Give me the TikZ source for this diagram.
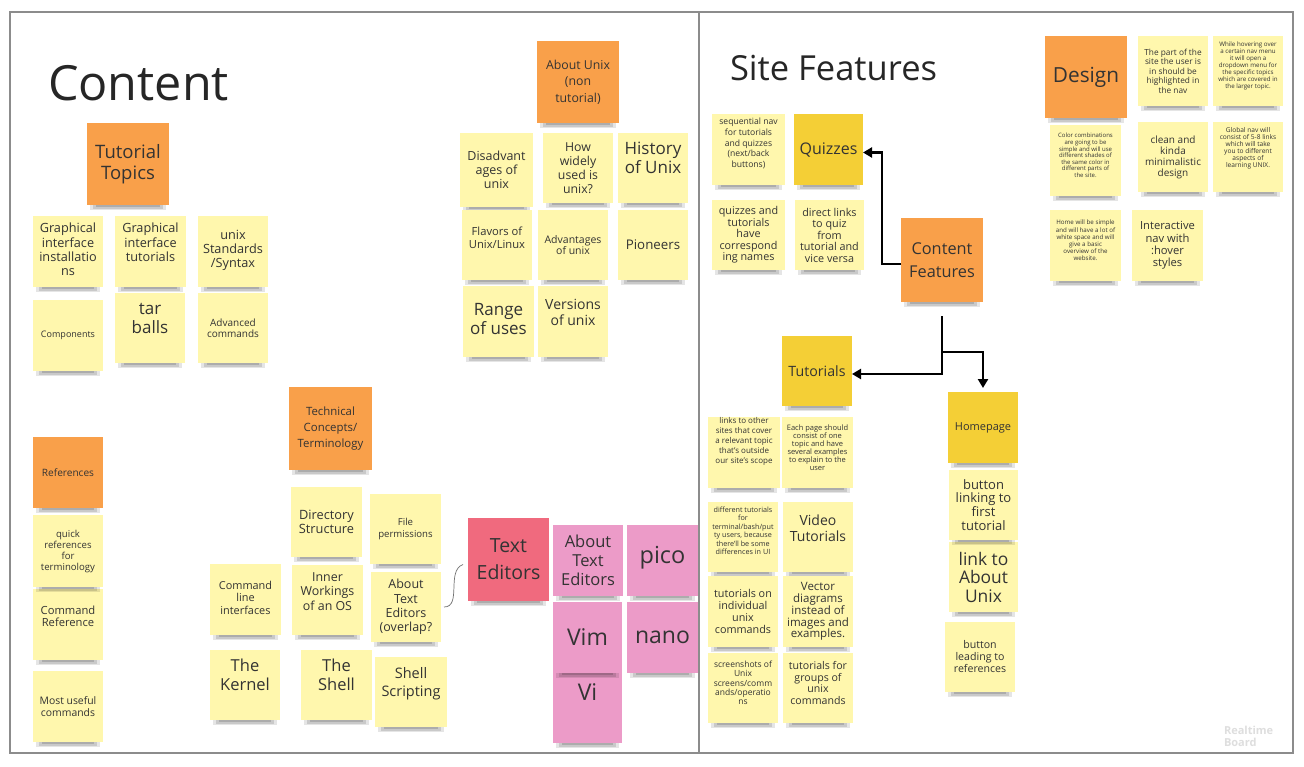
\documentclass[tikz,border=0pt]{standalone}
\usepackage{fontspec}
\setmainfont{Open Sans}
\usetikzlibrary{arrows.meta}
\definecolor{paleY}{HTML}{FFF7AD}
\definecolor{orng}{HTML}{F9A04A}
\definecolor{gold}{HTML}{F4CF36}
\definecolor{rose}{HTML}{F06A7E}
\definecolor{pinkish}{HTML}{EC9BC8}
\definecolor{ink}{HTML}{333333}
\definecolor{framec}{HTML}{8C8C8C}

% sticky note: colour style, name, x1, y1, x2, y2, text keys, text
\newcommand\sticky[8]{%
  \fill[black, opacity=.10] ({#3+3},{#6-6}) rectangle ({#5-3},{#6+5});
  \fill[black, opacity=.12] ({#3+6},{#6-6}) rectangle ({#5-6},{#6+3.5});
  \fill[black, opacity=.14] ({#3+9},{#6-6}) rectangle ({#5-9},{#6+2});
  \node[#1, minimum width={(#5)-(#3)}, minimum height={(#6)-(#4)}]
    (#2) at ({((#3)+(#5))/2},{((#4)+(#6))/2}) {};
  \node[txt,#7] (#2-t) at (#2.center) {#8};
}

\begin{document}
\begin{tikzpicture}[x=1pt,y=-1pt,
  every node/.style={inner sep=0pt, outer sep=0pt},
  paper/.style={rectangle, draw=none},
  palep/.style={paper, fill=paleY},
  orangep/.style={paper, fill=orng},
  goldp/.style={paper, fill=gold},
  rosep/.style={paper, fill=rose},
  pinkp/.style={paper, fill=pinkish},
  txt/.style={align=center, text=ink},
  fz/.style 2 args={font=\fontsize{#1}{#2}\selectfont},
  conn/.style={draw=black, line width=2.6pt, line join=miter,
    -{Triangle[length=9pt,width=10pt]}},
]
\useasboundingbox (0,0) rectangle (1304,766);
\fill[white] (0,0) rectangle (1304,766);

% board frame and the divider between the two halves
\draw[framec, line width=1.2pt] (10,12) rectangle (1293,753);
\draw[framec, line width=1.2pt] (699,12) -- (699,753);

% headings
\node[anchor=base west, fz={48.5}{50}, text=black!85] (contentTitle) at (48,100) {Content};
\node[anchor=base west, fz={34.5}{36}, text=black!85] (siteTitle) at (730,80) {Site Features};

% ---------- tutorial topics ----------
\sticky{orangep}{tt}{87}{123}{169}{205}{fz={18.5}{21}}{Tutorial\\Topics}
\sticky{palep}{gii}{33}{216}{103}{287}{fz={12.7}{14.3},yshift=2pt}{Graphical\\interface\\installatio\\ns}
\sticky{palep}{git}{115}{216}{186}{287}{fz={12.7}{14.3},yshift=9pt}{Graphical\\interface\\tutorials}
\sticky{palep}{uss}{198}{216}{268}{287}{fz={12.7}{13.8},yshift=1pt}{unix\\Standards\\/Syntax}
\sticky{palep}{comp}{33}{300}{103}{371}{fz={9}{10}}{Components}
\sticky{palep}{tar}{115}{293}{185}{363}{fz={17}{19},yshift=10pt}{tar\\balls}
\sticky{palep}{adv}{198}{293}{268}{363}{fz={10}{11}}{Advanced\\commands}

% ---------- about unix ----------
\sticky{orangep}{au}{537}{41}{619}{123}{fz={12.3}{16.5}}{About Unix\\(non\\tutorial)}
\sticky{palep}{dis}{460}{133}{533}{207}{fz={12.5}{14.2}}{Disadvant\\ages of\\unix}
\sticky{palep}{how}{543}{133}{613}{203}{fz={12.3}{14.1}}{How\\widely\\used is\\unix?}
\sticky{palep}{hist}{618}{133}{688}{203}{fz={17}{18.5},yshift=10pt}{History\\of Unix}
\sticky{palep}{flav}{462}{210}{532}{280}{fz={11.2}{12.7},yshift=7pt}{Flavors of\\Unix/Linux}
\sticky{palep}{advu}{538}{210}{608}{280}{fz={10.5}{11.7}}{Advantages\\of unix}
\sticky{palep}{pio}{618}{210}{688}{280}{fz={13.3}{15}}{Pioneers}
\sticky{palep}{range}{463}{286}{534}{357}{fz={17}{19},yshift=2pt}{Range\\of uses}
\sticky{palep}{vers}{538}{286}{608}{357}{fz={14}{16.5},yshift=9pt}{Versions\\of unix}

% ---------- technical concepts ----------
\sticky{orangep}{tech}{289}{387}{372}{470}{fz={11.4}{16}}{Technical\\Concepts/\\Terminology}
\sticky{palep}{dir}{291}{487}{362}{557}{fz={12.8}{13.6}}{Directory\\Structure}
\sticky{palep}{perm}{370}{494}{441}{564}{fz={9.6}{11.3}}{File\\permissions}
\sticky{palep}{cli}{210}{564}{281}{635}{fz={10.9}{12.5},yshift=2pt}{Command\\line\\interfaces}
\sticky{palep}{inner}{292}{565}{363}{635}{fz={12.4}{14.5},yshift=8.5pt}{Inner\\Workings\\of an OS}
\sticky{palep}{ate}{371}{572}{441}{642}{fz={12.5}{14.2}}{About\\Text\\Editors\\(overlap?}
\sticky{palep}{kern}{210}{650}{280}{720}{fz={16.5}{19},yshift=10pt}{The\\Kernel}
\sticky{palep}{shell}{301}{650}{372}{720}{fz={16.5}{19},yshift=10pt}{The\\Shell}
\sticky{palep}{script}{375}{657}{447}{727}{fz={14.5}{17.5},yshift=8.5pt}{Shell\\Scripting}

% ---------- text editors (lower notes first so upper shadows overlap them) ----------
\sticky{rosep}{te}{468}{518}{549}{601}{fz={19.5}{27}}{Text\\Editors}
\sticky{pinkp}{vi}{553}{673}{622}{743}{fz={23}{26},yshift=16pt}{Vi}
\sticky{pinkp}{vim}{553}{602}{622}{673}{fz={23}{26}}{Vim}
\sticky{pinkp}{nano}{627}{602}{698}{673}{fz={23}{26}}{nano}
\sticky{pinkp}{ated}{553}{525}{623}{596}{fz={16.5}{19}}{About\\Text\\Editors}
\sticky{pinkp}{pico}{627}{525}{698}{596}{fz={23.5}{26},yshift=3pt}{pico}

% ---------- references ----------
\sticky{orangep}{refs}{33}{437}{103}{508}{fz={10.1}{12}}{References}
\sticky{palep}{useful}{33}{671}{103}{742}{fz={10.4}{12}}{Most useful\\commands}
\sticky{palep}{cmdref}{33}{589}{103}{660}{fz={11.2}{12.2},yshift=8pt}{Command\\Reference}
\sticky{palep}{quick}{33}{515}{103}{587}{fz={9.6}{11}}{quick\\references\\for\\terminology}

% ---------- site features: content ----------
\sticky{palep}{seq}{712}{114}{785}{185}{fz={8.6}{10.7},yshift=6pt}{sequential nav\\for tutorials\\and quizzes\\(next/back\\buttons)}
\sticky{goldp}{quiz}{794}{114}{863}{185}{fz={16}{18}}{Quizzes}
\sticky{palep}{names}{712}{200}{785}{270}{fz={10.8}{11.5}}{quizzes and\\tutorials\\have\\correspond\\ing names}
\sticky{palep}{direct}{795}{200}{864}{270}{fz={10.8}{11.5}}{direct links\\to quiz\\from\\tutorial and\\vice versa}
\sticky{orangep}{cf}{901}{218}{983}{302}{fz={16.3}{22.5}}{Content\\Features}
\sticky{goldp}{tut}{782}{336}{852}{406}{fz={14.2}{16}}{Tutorials}
\sticky{palep}{bref}{945}{622}{1015}{692}{fz={10.6}{12}}{button\\leading to\\references}
\sticky{palep}{labout}{949}{542}{1018}{612}{fz={17.4}{18.5}}{link to\\About\\Unix}
\sticky{palep}{bfirst}{949}{470}{1018}{540}{fz={13}{13.8}}{button\\linking to\\first\\tutorial}
\sticky{goldp}{home}{948}{392}{1018}{463}{fz={11}{13}}{Homepage}

\sticky{palep}{links}{708}{417}{780}{488}{fz={8}{10},yshift=11pt}{links to other\\sites that cover\\a relevant topic\\that's outside\\our site's scope}
\sticky{palep}{each}{782}{417}{853}{488}{fz={7.5}{8},yshift=5pt}{Each page should\\consist of one\\topic and have\\several examples\\to explain to the\\user}
\sticky{palep}{diff}{708}{502}{778}{572}{fz={7.2}{8.5},yshift=6pt}{different tutorials\\for\\terminal/bash/put\\ty users, because\\there'll be some\\differences in UI}
\sticky{palep}{video}{783}{502}{853}{572}{fz={14}{16},yshift=9pt}{Video\\Tutorials}
\sticky{palep}{indiv}{708}{576}{778}{647}{fz={10.8}{11.9}}{tutorials on\\individual\\unix\\commands}
\sticky{palep}{vector}{783}{576}{853}{647}{fz={11.5}{11.5}}{Vector\\diagrams\\instead of\\images and\\examples.}
\sticky{palep}{shots}{708}{653}{778}{723}{fz={8.5}{9.3},yshift=5pt}{screenshots of\\Unix\\screens/comm\\ands/operatio\\ns}
\sticky{palep}{groups}{783}{653}{853}{723}{fz={10.6}{11.7},yshift=5pt}{tutorials for\\groups of\\unix\\commands}

% ---------- design ----------
\sticky{orangep}{design}{1045}{36}{1127}{118}{fz={20.8}{24}}{Design}
\sticky{palep}{part}{1138}{36}{1208}{106}{fz={8.3}{9.5}}{The part of the\\site the user is\\in should be\\highlighted in\\the nav}
\sticky{palep}{hover}{1213}{36}{1283}{106}{fz={6.2}{7},yshift=5pt}{While hovering over\\a certain nav menu\\it will open a\\dropdown menu for\\the specific topics\\which are covered in\\the larger topic.}
\sticky{palep}{colors}{1050}{125}{1121}{196}{fz={6}{6.6},yshift=5pt}{Color combinations\\are going to be\\simple and will use\\different shades of\\the same color in\\different parts of\\the site.}
\sticky{palep}{clean}{1138}{122}{1208}{192}{fz={10}{11}}{clean and\\kinda\\minimalistic\\design}
\sticky{palep}{global}{1213}{122}{1283}{192}{fz={6.6}{7},yshift=9pt}{Global nav will\\consist of 5-8 links\\which will take\\you to different\\aspects of\\learning UNIX.}
\sticky{palep}{homesimple}{1050}{210}{1121}{281}{fz={6.2}{7.2},yshift=5pt}{Home will be simple\\and will have a lot of\\white space and will\\give a basic\\overview of the\\website.}
\sticky{palep}{inter}{1132}{210}{1203}{281}{fz={11.2}{12.4}}{Interactive\\nav with\\:hover\\styles}

% ---------- connectors ----------
\draw[conn] ([yshift=-4pt]cf.west) -- ++(-19,0) |- ([yshift=-3pt]quiz.east);
\coordinate (stem) at (942,316);
\coordinate (split) at (942,352);
\draw[conn] (stem) |- ([yshift=-3pt]tut.east);
\draw[conn] (split) -| ([yshift=4pt]home.north);
\draw[black!55, line width=0.7pt] ([xshift=3pt]ate.east) to[out=0,in=200] ([xshift=-5pt,yshift=-5pt]te.west);

% watermark
\node[anchor=north west, align=left, font=\bfseries\fontsize{11}{12.5}\selectfont, text=black!13] (rtb) at (1224,726) {Realtime\\Board};
\end{tikzpicture}
\end{document}
